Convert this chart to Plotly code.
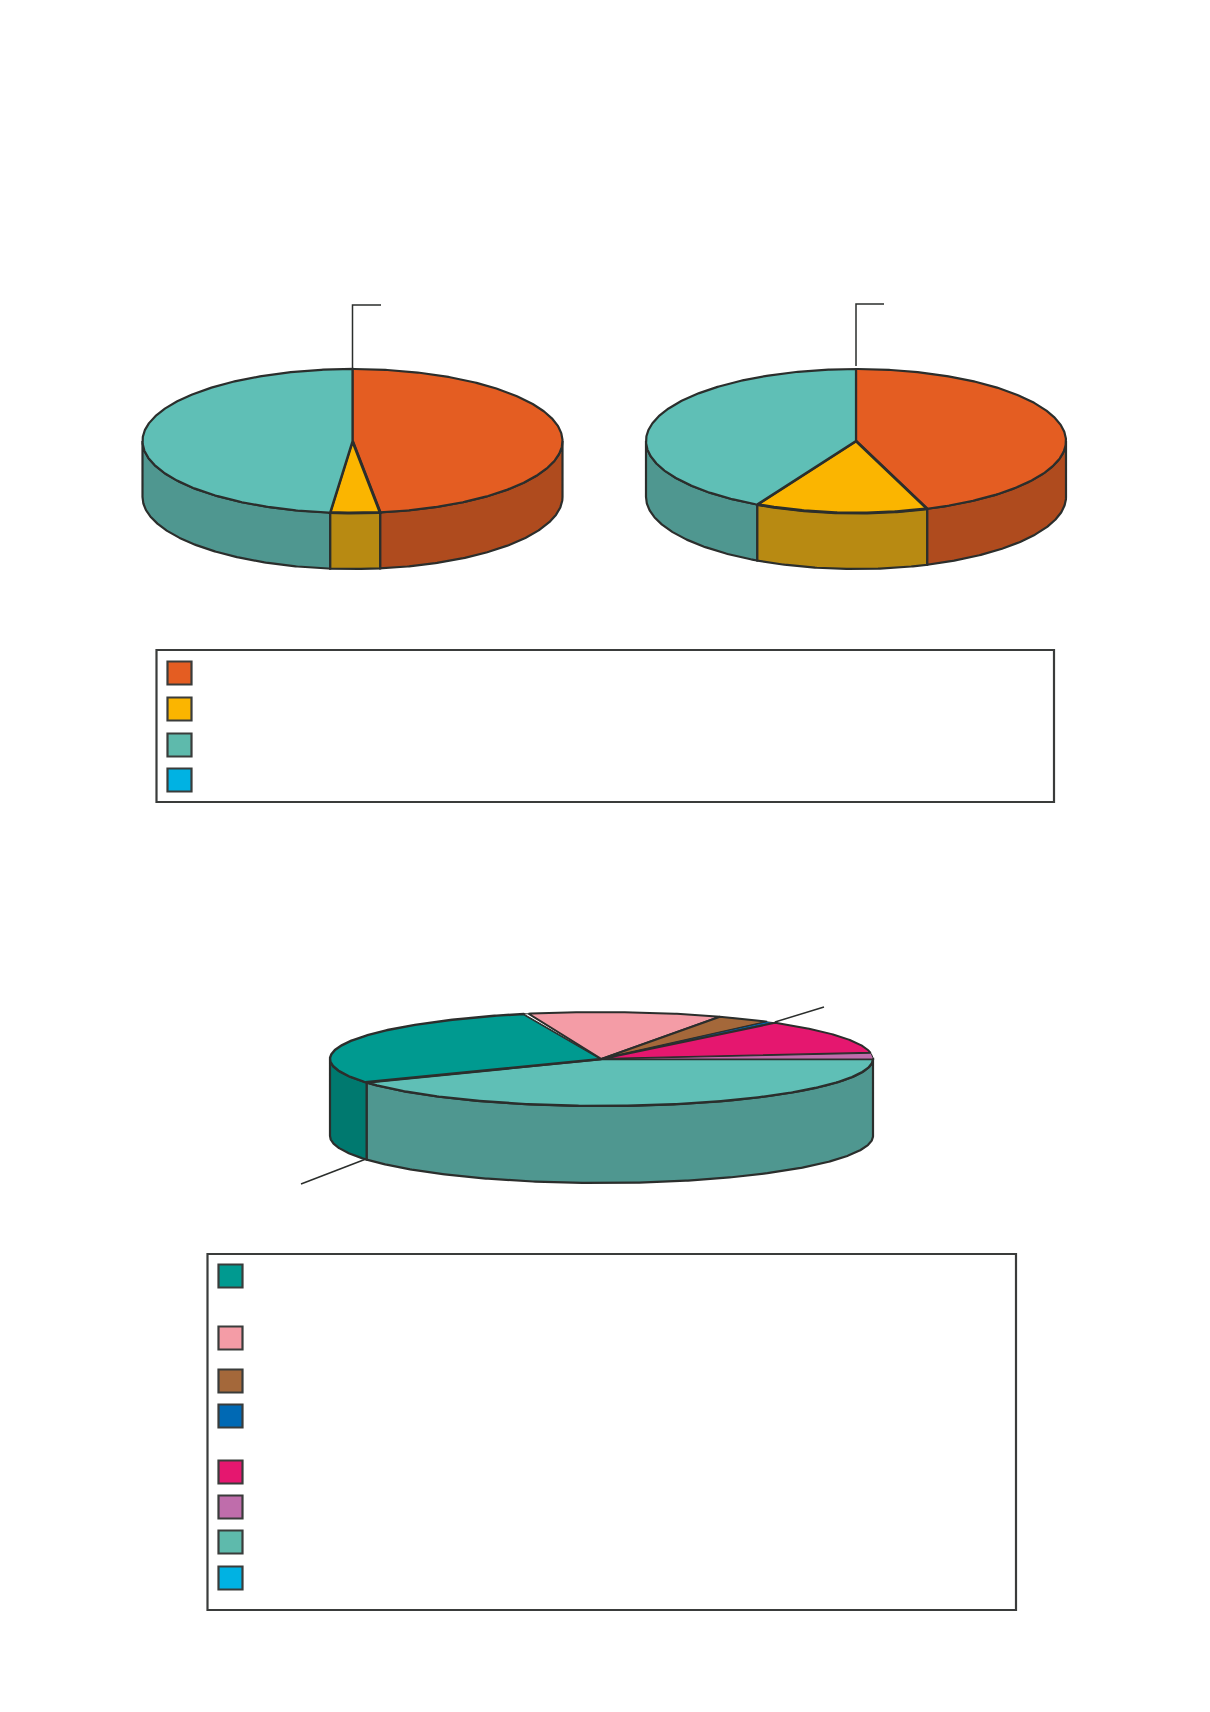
import numpy as np
import plotly.graph_objects as go

# shares (percent), clockwise from 12 o'clock
left_values = [47.9, 3.8, 48.3, 0]
right_values = [44.5, 13.3, 42.2, 0]
left_colors = ["#e45d22", "#fbb500", "#5fbfb6", "#00b2e3"]
left_sides = ["#af4b1e", "#b88a12", "#4f9790", "#0090b8"]
left_widths = [2.2, 3, 2.2, 2]

bottom_values = [41.6, 28.7, 0.3, 11.5, 3.25, 0.45, 12.0, 2.1, 0]
bottom_colors = ["#5fbfb6", "#009a90", "#ffffff", "#f49ca6", "#a4683a", "#0069b4", "#e5176f", "#bf6dab", "#00b2e3"]
bottom_sides = ["#4f9790", "#00796f", "#dddddd", "#c47d85", "#84532e", "#005490", "#b81259", "#995789", "#0090b8"]
bottom_widths = [2.4, 2.4, 1, 2, 2, 0.8, 2, 1, 1]
bottom_start = 90

legend1_colors = ["#e45d22", "#fbb500", "#5ebaac", "#00b2e3"]
legend2_colors = ["#009a90", "#f49ca6", "#a4683a", "#0069b4", "#e5176f", "#bf6dab", "#5ebaac", "#00b2e3"]

INK = "#2b2e2c"
FRAME = "#3a3c3b"


def arc(cx, cy, rx, ry, a0, a1):
    t = np.radians(np.linspace(a0, a1, max(int(abs(a1 - a0) * 2), 2)))
    return cx + rx * np.sin(t), cy - ry * np.cos(t)


def draw_pie(fig, values, colors, sides, widths, cx, cy, rx, ry, depth, start=0):
    total = sum(values)
    edges = start + np.cumsum([0] + values) * 360 / total

    # side walls, only the front half of the cylinder shows
    for i, v in enumerate(values):
        if v == 0:
            continue
        for shift in (0, 360):
            a0 = max(edges[i] - shift, 90)
            a1 = min(edges[i + 1] - shift, 270)
            if a1 <= a0:
                continue
            x, y = arc(cx, cy, rx, ry, a0, a1)
            fig.add_trace(go.Scatter(
                x=np.concatenate([x, x[::-1], x[:1]]),
                y=np.concatenate([y, y[::-1] + depth, y[:1]]),
                mode="lines", fill="toself", fillcolor=sides[i],
                line=dict(color=INK, width=2.2), hoverinfo="skip"))

    # top face
    for i, v in enumerate(values):
        if v == 0:
            continue
        x, y = arc(cx, cy, rx, ry, edges[i], edges[i + 1])
        fig.add_trace(go.Scatter(
            x=np.concatenate([[cx], x, [cx]]),
            y=np.concatenate([[cy], y, [cy]]),
            mode="lines", fill="toself", fillcolor=colors[i],
            line=dict(color=INK, width=widths[i]), hoverinfo="skip"))


def box(x0, y0, x1, y1, fill="rgba(0,0,0,0)", width=2.2):
    return dict(type="rect", xref="x", yref="y", x0=x0, y0=y0, x1=x1, y1=y1,
                fillcolor=fill, line=dict(color=FRAME, width=width))


def leader(xs, ys):
    return go.Scatter(x=xs, y=ys, mode="lines", line=dict(color=INK, width=1.5), hoverinfo="skip")


fig = go.Figure()

draw_pie(fig, left_values, left_colors, left_sides, left_widths, 352.5, 441, 210, 72, 56)
draw_pie(fig, right_values, left_colors, left_sides, left_widths, 856, 441, 210, 72, 56)
draw_pie(fig, bottom_values, bottom_colors, bottom_sides, bottom_widths, 601.5, 1059, 271.5, 47, 77, start=bottom_start)

# leader lines
fig.add_trace(leader([352.5, 352.5, 381], [369, 305, 305]))
fig.add_trace(leader([856, 856, 884], [366, 304, 304]))
fig.add_trace(leader([366, 301], [1159, 1184]))
fig.add_trace(leader([775, 824], [1022, 1007]))

# legend frames and swatches, the labels are blank in the source
shapes = [box(156.5, 650, 1054, 802), box(207.5, 1254, 1016, 1610)]
rows1 = [661, 697, 733, 768]
rows2 = [1264, 1326, 1369, 1404, 1460, 1495, 1530, 1566]
for y, c in zip(rows1, legend1_colors):
    shapes.append(box(167.5, y + 0.5, 191.5, y + 23.5, fill=c))
for y, c in zip(rows2, legend2_colors):
    shapes.append(box(218.5, y + 0.5, 242.5, y + 23.5, fill=c))

fig.update_layout(
    width=1210, height=1712, margin=dict(l=0, r=0, t=0, b=0),
    paper_bgcolor="white", plot_bgcolor="white", showlegend=False, shapes=shapes,
    xaxis=dict(range=[0, 1210], visible=False, fixedrange=True),
    yaxis=dict(range=[1712, 0], visible=False, fixedrange=True),
)
fig.write_html("out.html", config={"displayModeBar": False},
               post_script="document.body.style.margin='0';")
